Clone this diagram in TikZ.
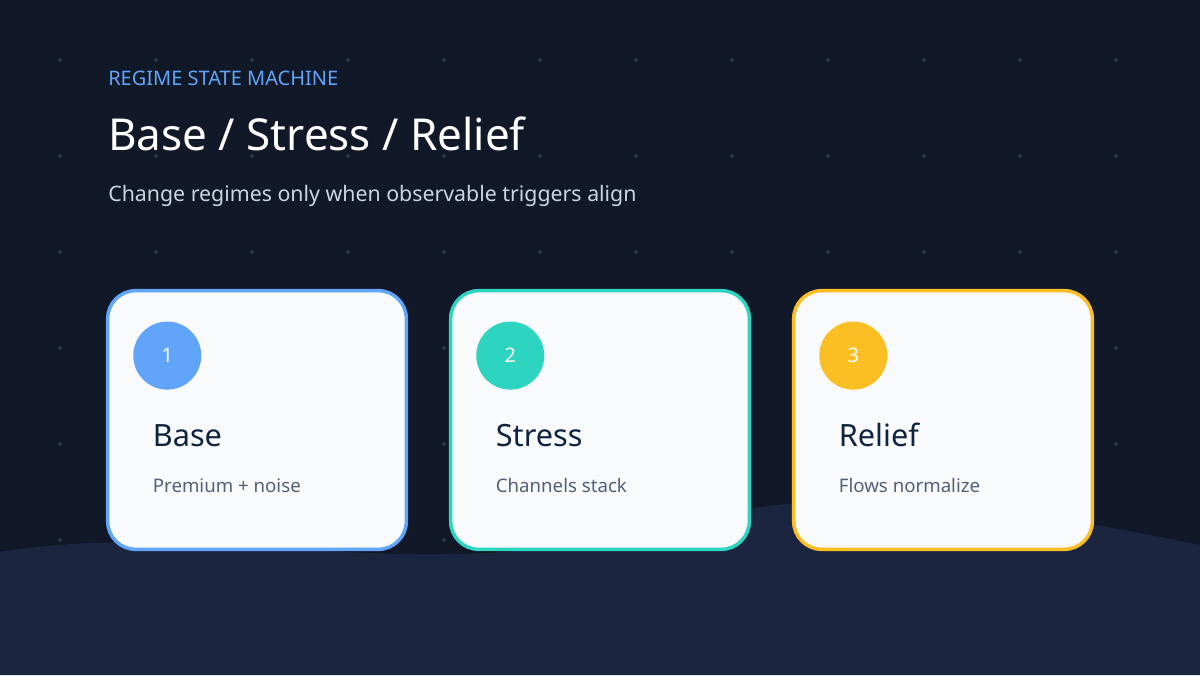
\documentclass[tikz,border=0pt]{standalone}
\usepackage{fontspec}
\setmainfont{Noto Sans}
\usetikzlibrary{positioning}
\definecolor{bgdark}{HTML}{111827}
\definecolor{bgwave}{HTML}{1B2540}
\definecolor{dotc}{HTML}{263248}
\definecolor{cardfill}{HTML}{F8FAFC}
\definecolor{inkdark}{HTML}{0F233F}
\definecolor{inkgray}{HTML}{526079}
\definecolor{subtxt}{HTML}{CBD5E1}
\definecolor{blueacc}{HTML}{60A5FA}
\definecolor{tealacc}{HTML}{2DD4BF}
\definecolor{goldacc}{HTML}{FBBF24}
\tikzset{
  card/.style={draw=#1, line width=2.6pt, fill=cardfill, rounded corners=21pt,
    minimum width=224pt, minimum height=194pt, inner sep=0pt},
  badge/.style={circle, fill=#1, minimum size=51pt, inner sep=0pt,
    text=white, font=\bfseries\fontsize{15}{18}\selectfont},
  cardtitle/.style={anchor=base west, text=inkdark, inner sep=0pt,
    font=\bfseries\fontsize{23}{27}\selectfont},
  cardnote/.style={anchor=base west, text=inkgray, inner sep=0pt,
    font=\bfseries\fontsize{14}{17}\selectfont}
}
\begin{document}
\begin{tikzpicture}[x=0.75pt,y=-0.75pt]
\fill[bgdark] (0,0) rectangle (1200,675);
\useasboundingbox (0,0) rectangle (1200,675);
% dot grid
\foreach \i in {0,...,12}
  \foreach \j in {0,...,6}
    \fill[dotc] (60+96*\i,60+96*\j) circle (1.6pt);
% wave
\fill[bgwave] (0,552) .. controls (200,520) and (380,580) .. (600,540)
  .. controls (760,505) and (840,470) .. (1200,545) -- (1200,675) -- (0,675) -- cycle;
% header
\node[anchor=base west, inner sep=0pt, text=blueacc, font=\bfseries\fontsize{15}{18}\selectfont] (kicker) at (108,85) {REGIME STATE MACHINE};
\node[anchor=base west, inner sep=0pt, text=white, font=\bfseries\fontsize{33}{40}\selectfont] (headline) at (108,150) {Base / Stress / Relief};
\node[anchor=base west, inner sep=0pt, text=subtxt, font=\bfseries\fontsize{16}{19}\selectfont] (lede) at (108,201) {Change regimes only when observable triggers align};
% cards
\foreach \n/\x/\c/\t/\s in {base/257/blueacc/Base/Premium + noise,
    stress/600/tealacc/Stress/Channels stack,
    relief/943/goldacc/Relief/Flows normalize}{
  \node[card=\c] (\n) at (\x,420) {};
  \node[cardtitle] (\n-title) at ([xshift=35pt,yshift=-118pt]\n.north west) {\t};
  \node[cardnote] (\n-note) at ([xshift=35pt,yshift=-153pt]\n.north west) {\s};
}
\node[badge=blueacc] (base-badge) at ([xshift=46pt,yshift=-50pt]base.north west) {1};
\node[badge=tealacc] (stress-badge) at ([xshift=46pt,yshift=-50pt]stress.north west) {2};
\node[badge=goldacc] (relief-badge) at ([xshift=46pt,yshift=-50pt]relief.north west) {3};
\end{tikzpicture}
\end{document}
